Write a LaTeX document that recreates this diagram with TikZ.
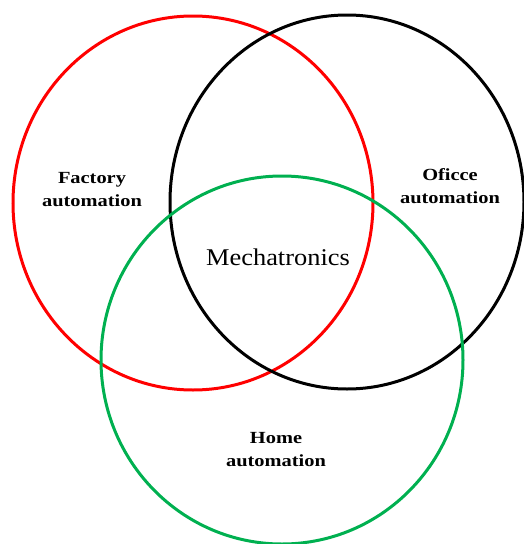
\documentclass[tikz,border=0pt]{standalone}
\usepackage{fontspec}
\setmainfont{Liberation Serif}
\begin{document}
\begin{tikzpicture}[x=1pt,y=-1pt,
  ring/.style={line width=3pt},
  label/.style={font=\fontsize{17}{23}\selectfont\bfseries, align=center, xscale=1.2, transform shape},
  core/.style={font=\fontsize{24}{26}\selectfont, xscale=1.1, transform shape}]
  \useasboundingbox (0,0) rectangle (524,544);
  % the three overlapping fields
  \draw[ring, red] (193,203) ellipse [x radius=180, y radius=187];
  \draw[ring, black] (347,202) ellipse [x radius=177, y radius=187];
  \draw[ring, color={rgb,255:red,0;green,176;blue,80}] (282,360) ellipse [x radius=181, y radius=184];
  % labels
  \node[label] (factory) at (92,190) {Factory\\automation};
  \node[label] (office) at (450,186) {Oficce\\automation};
  \node[core] (mech) at (278,257) {Mechatronics};
  \node[label] (home) at (276,450) {Home\\automation};
\end{tikzpicture}
\end{document}
